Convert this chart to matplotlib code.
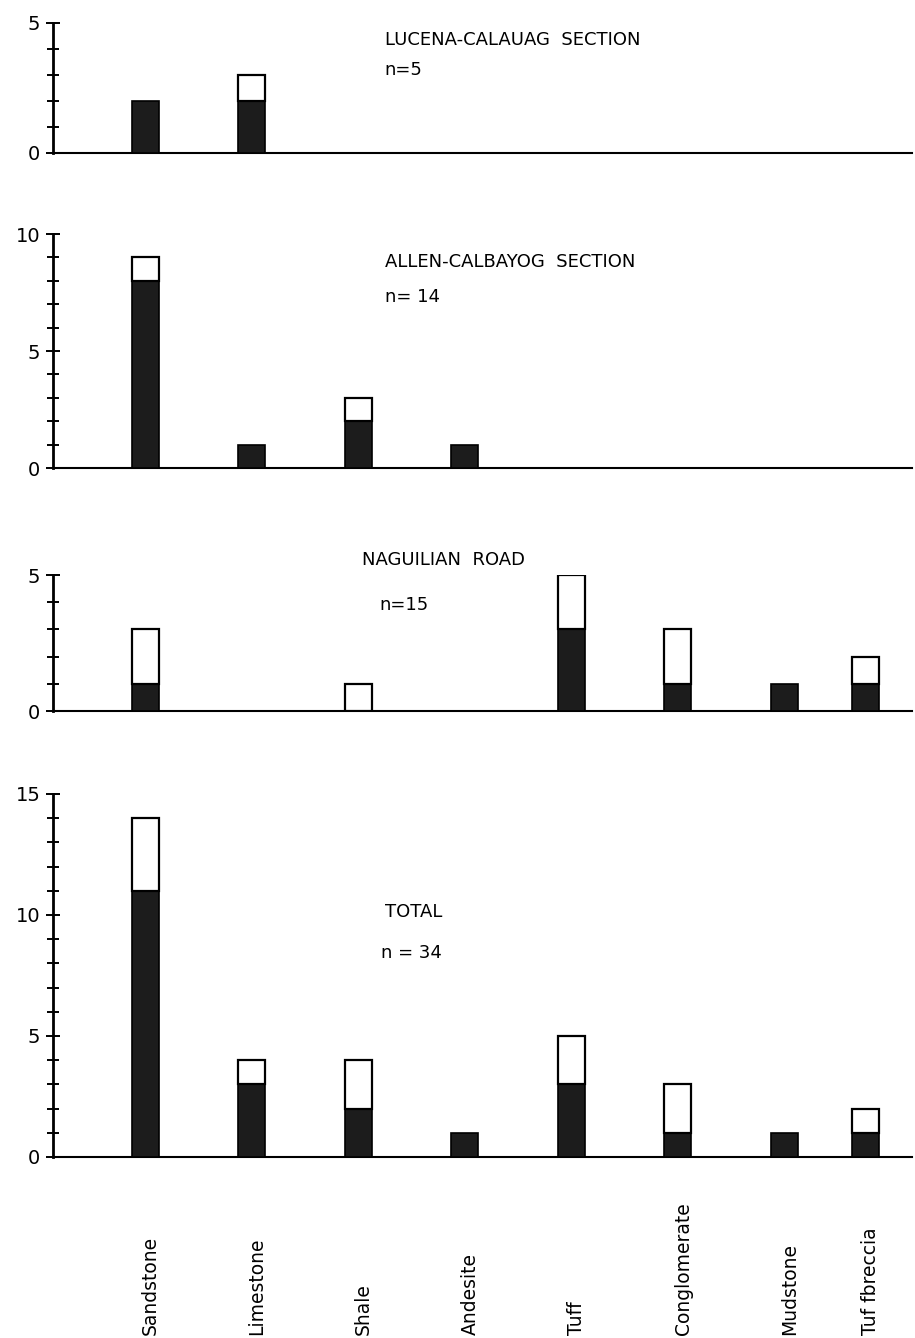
import matplotlib.pyplot as plt
from matplotlib.ticker import MultipleLocator
from matplotlib.transforms import blended_transform_factory

rocks = ["Sandstone", "Limestone", "Shale", "Andesite", "Tuff",
         "Conglomerate", "Mudstone", "Tuf fbreccia"]

# dark (lower) part and white (upper) part of each bar
lucena_dark = [2, 2, 0, 0, 0, 0, 0, 0]
lucena_white = [0, 1, 0, 0, 0, 0, 0, 0]
allen_dark = [8, 1, 2, 1, 0, 0, 0, 0]
allen_white = [1, 0, 1, 0, 0, 0, 0, 0]
naguilian_dark = [1, 0, 0, 0, 3, 1, 1, 1]
naguilian_white = [2, 0, 1, 0, 2, 2, 0, 1]
total_dark = [11, 3, 2, 1, 3, 1, 1, 1]
total_white = [3, 1, 2, 0, 2, 2, 0, 1]

titles = ["LUCENA-CALAUAG  SECTION", "ALLEN-CALBAYOG  SECTION",
          "NAGUILIAN  ROAD", "TOTAL"]
counts = ["n=5", "n= 14", "n=15", "n = 34"]
ymax = [5, 10, 5, 15]

# layout
xpos = [0, 1, 2, 3, 4, 5, 6, 6.76]
boxes = [(0.0579, 0.8857, 0.939, 0.0972),
         (0.0579, 0.6502, 0.939, 0.1749),
         (0.0579, 0.4686, 0.939, 0.1016),
         (0.0579, 0.1353, 0.939, 0.2713)]
title_xy = [(0.386, 0.87), (0.386, 0.88), (0.36, 1.11), (0.386, 0.675)]
count_xy = [(0.386, 0.64), (0.386, 0.73), (0.38, 0.78), (0.382, 0.562)]

dark_col = "#1c1c1c"
plt.rcParams['font.family'] = ['DejaVu Sans']

fig = plt.figure(figsize=(9.15, 13.38), dpi=100)
data = [(lucena_dark, lucena_white), (allen_dark, allen_white),
        (naguilian_dark, naguilian_white), (total_dark, total_white)]

for k, (dark, white) in enumerate(data):
    ax = fig.add_axes(boxes[k])
    w = 0.254
    for i in range(len(rocks)):
        if dark[i] > 0:
            ax.bar(xpos[i], dark[i], width=w, color=dark_col,
                   edgecolor="black", linewidth=1.2, zorder=3)
        if white[i] > 0:
            ax.bar(xpos[i], white[i], bottom=dark[i], width=w, color="white",
                   edgecolor="black", linewidth=1.6, zorder=3)
    ax.set_xlim(-0.864, 7.2)
    ax.set_ylim(0, ymax[k])
    ax.set_facecolor("none")
    for s in ["top", "right"]:
        ax.spines[s].set_visible(False)
    ax.spines["left"].set_linewidth(2)
    ax.spines["bottom"].set_linewidth(1.5)
    ax.set_xticks([])
    ax.yaxis.set_major_locator(MultipleLocator(5))
    ax.yaxis.set_minor_locator(MultipleLocator(1))
    ax.tick_params(axis="y", which="both", direction="inout", length=10,
                   width=1.4, labelsize=14, pad=4)
    ax.tick_params(axis="y", which="minor", length=9)
    ax.text(*title_xy[k], titles[k], transform=ax.transAxes, fontsize=13,
            va="center", ha="left")
    ax.text(*count_xy[k], counts[k], transform=ax.transAxes, fontsize=13,
            va="center", ha="left")

    if k == 3:
        tr = blended_transform_factory(ax.transData, fig.transFigure)
        for i, name in enumerate(rocks):
            ax.text(xpos[i] + 0.05, 0.002, name, transform=tr, rotation=90,
                    ha="center", va="bottom", fontsize=13.5)

fig.savefig("out.png", dpi=100)
